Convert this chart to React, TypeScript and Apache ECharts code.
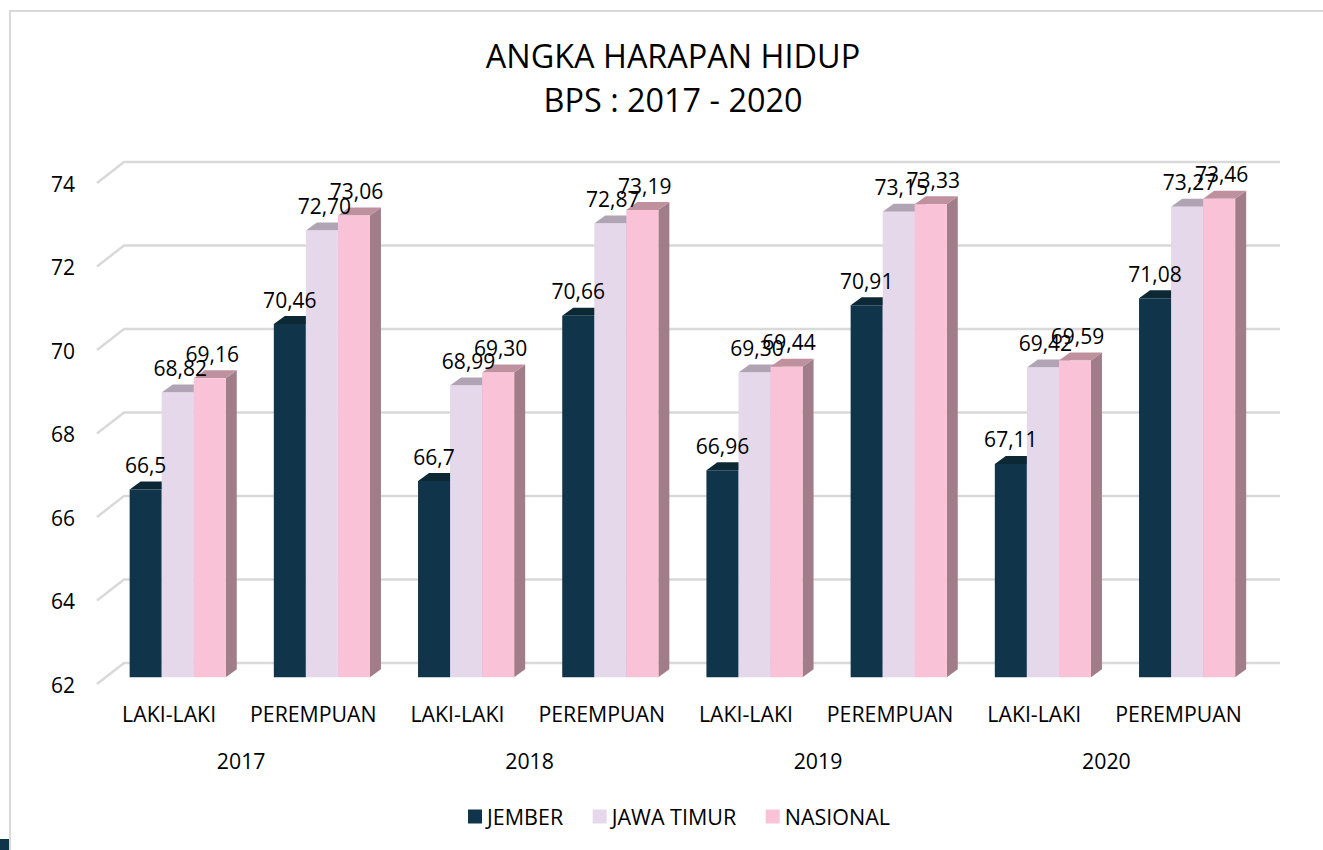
import React, { useEffect, useRef } from "react";
import * as echarts from "echarts";

const categories = ["LAKI-LAKI", "PEREMPUAN", "LAKI-LAKI", "PEREMPUAN", "LAKI-LAKI", "PEREMPUAN", "LAKI-LAKI", "PEREMPUAN"];
const years = ["2017", "2018", "2019", "2020"];
const yTicks = [62, 64, 66, 68, 70, 72, 74];
const jember = [66.5, 70.46, 66.7, 70.66, 66.96, 70.91, 67.11, 71.08];
const jawaTimur = [68.82, 72.7, 68.99, 72.87, 69.3, 73.15, 69.42, 73.27];
const nasional = [69.16, 73.06, 69.3, 73.19, 69.44, 73.33, 69.59, 73.46];
const jemberLabels = ["66,5", "70,46", "66,7", "70,66", "66,96", "70,91", "67,11", "71,08"];
const jawaLabels = ["68,82", "72,70", "68,99", "72,87", "69,30", "73,15", "69,42", "73,27"];
const nasionalLabels = ["69,16", "73,06", "69,30", "73,19", "69,44", "73,33", "69,59", "73,46"];

const FONT = "'Open Sans', sans-serif";
const LABEL_SIZE = 21;
const DX = 11;
const DY = 8;

function barSeries(name: string, values: number[], order: number, front: string, top: string, side: string) {
  return {
    type: "custom",
    name,
    xAxisIndex: 0,
    yAxisIndex: 0,
    clip: false,
    silent: true,
    z: 3 + order,
    itemStyle: { color: front },
    encode: { x: 0, y: 1 },
    data: values.map((v, i) => [i, v]),
    renderItem: (params: any, api: any) => {
      const i = api.value(0);
      const v = api.value(1);
      const band = api.size([1, 0])[0];
      const w = band / 4.5;
      const c = api.coord([i, v]);
      const base = api.coord([i, 62]);
      const x0 = c[0] - 1.5 * w + order * w;
      const x1 = x0 + w;
      const yT = c[1];
      const yB = base[1];
      return {
        type: "group",
        children: [
          { type: "polygon", shape: { points: [[x1, yT], [x1 + DX, yT - DY], [x1 + DX, yB - DY], [x1, yB]] }, style: { fill: side } },
          { type: "polygon", shape: { points: [[x0, yT], [x0 + DX, yT - DY], [x1 + DX, yT - DY], [x1, yT]] }, style: { fill: top } },
          { type: "rect", shape: { x: x0, y: yT, width: w, height: yB - yT }, style: { fill: front } },
        ],
      };
    },
  };
}

function labelSeries(values: number[], labels: string[], order: number, labelShift: number) {
  return {
    type: "custom",
    name: `labels-${order}`,
    xAxisIndex: 0,
    yAxisIndex: 0,
    clip: false,
    silent: true,
    z: 10 + order,
    encode: { x: 0, y: 1 },
    data: values.map((v, i) => [i, v]),
    renderItem: (params: any, api: any) => {
      const band = api.size([1, 0])[0];
      const w = band / 4.5;
      const c = api.coord([api.value(0), api.value(1)]);
      return {
        type: "text",
        x: c[0] - w + order * w + labelShift,
        y: c[1] - 24.5,
        style: { text: labels[params.dataIndex], fill: "#000", font: `${LABEL_SIZE}px ${FONT}`, align: "center", verticalAlign: "middle" },
      };
    },
  };
}

export default function App() {
  const ref = useRef<HTMLDivElement>(null);
  useEffect(() => {
    document.body.style.margin = "0";
    document.body.style.overflow = "hidden";
    const chart = echarts.init(ref.current!, undefined, { renderer: "svg" });
    chart.setOption({
      animation: false,
      backgroundColor: "#fff",
      title: {
        text: "ANGKA HARAPAN HIDUP\nBPS : 2017 - 2020",
        left: 668,
        top: 28,
        textAlign: "center",
        textStyle: { fontFamily: FONT, fontSize: 32.4, fontWeight: "normal", color: "#000", lineHeight: 44 },
      },
      legend: {
        data: ["JEMBER", "JAWA TIMUR", "NASIONAL"],
        left: 468,
        top: 805.5,
        padding: 0,
        icon: "rect",
        itemWidth: 14,
        itemHeight: 14,
        itemGap: 29.5,
        textStyle: { fontFamily: FONT, fontSize: 21.5, color: "#000" },
      },
      grid: [
        { left: 105.6, top: 176.3, width: 1153.6, height: 501 },
        { left: 97, top: 183.7, width: 1153.6, height: 501 },
      ],
      xAxis: [
        { type: "category", gridIndex: 0, data: categories, show: false },
        {
          type: "category",
          gridIndex: 1,
          data: categories,
          axisLine: { show: false },
          axisTick: { show: false },
          splitLine: { show: false },
          axisLabel: { interval: 0, margin: 18.3, fontFamily: FONT, fontSize: 21.3, color: "#000" },
        },
        {
          type: "category",
          gridIndex: 1,
          data: years,
          position: "bottom",
          offset: 46,
          axisLine: { show: false },
          axisTick: { show: false },
          splitLine: { show: false },
          axisLabel: { interval: 0, margin: 19.3, fontFamily: FONT, fontSize: 21.3, color: "#000" },
        },
      ],
      yAxis: [
        { type: "value", gridIndex: 0, min: 62, max: 74, interval: 2, show: false },
        {
          type: "value",
          gridIndex: 1,
          min: 62,
          max: 74,
          interval: 2,
          axisLine: { show: false },
          axisTick: { show: false },
          splitLine: { show: false },
          axisLabel: { margin: 22, fontFamily: FONT, fontSize: LABEL_SIZE, color: "#000" },
        },
      ],
      graphic: [
        { type: "rect", shape: { x: 9, y: 10, width: 1314, height: 2 }, style: { fill: "#d9d9d9" }, silent: true },
        { type: "rect", shape: { x: 9, y: 10, width: 2, height: 840 }, style: { fill: "#d9d9d9" }, silent: true },
        { type: "rect", shape: { x: 0, y: 839, width: 9, height: 11 }, style: { fill: "#10344a" }, silent: true },
      ],
      series: [
        {
          type: "custom",
          name: "grid",
          xAxisIndex: 0,
          yAxisIndex: 0,
          clip: false,
          silent: true,
          z: 1,
          encode: { x: 0, y: 1 },
          data: yTicks.map((t) => [0, t]),
          renderItem: (params: any, api: any) => {
            const y = api.coord([0, api.value(1)])[1];
            const cs = params.coordSys;
            return {
              type: "polyline",
              shape: { points: [[cs.x - 8.6, y + 6.7], [cs.x + 18.4, y - 14.3], [cs.x + cs.width + 20.8, y - 14.3]] },
              style: { stroke: "#d9d9d9", lineWidth: 2.5, fill: "none" },
            };
          },
        },
        barSeries("JEMBER", jember, 0, "#10344a", "#0c2835", "#0c2835"),
        barSeries("JAWA TIMUR", jawaTimur, 1, "#e4d8ea", "#afa3b4", "#9e93a3"),
        barSeries("NASIONAL", nasional, 2, "#fac2d7", "#bf919f", "#a17d8a"),
        labelSeries(jember, jemberLabels, 0, 0),
        labelSeries(jawaTimur, jawaLabels, 1, 2.5),
        labelSeries(nasional, nasionalLabels, 2, 2.5),
      ],
    });
    return () => chart.dispose();
  }, []);
  return <div ref={ref} style={{ position: "absolute", left: 0, top: 0, width: 1323, height: 850 }} />;
}
